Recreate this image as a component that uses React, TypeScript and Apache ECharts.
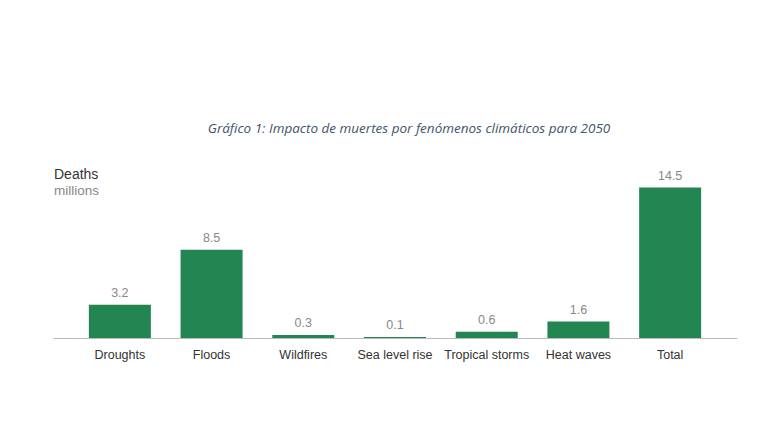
import React, { useEffect, useRef } from "react";
import * as echarts from "echarts";

const categories = ["Droughts", "Floods", "Wildfires", "Sea level rise", "Tropical storms", "Heat waves", "Total"];
const deaths = [3.2, 8.5, 0.3, 0.1, 0.6, 1.6, 14.5];
const titleText = "Gráfico 1: Impacto de muertes por fenómenos climáticos para 2050";
const unitTitle = "Deaths";
const unitSub = "millions";

export default function App() {
  const ref = useRef<HTMLDivElement>(null);
  useEffect(() => {
    if (!ref.current) return;
    const chart = echarts.init(ref.current, null, { renderer: "svg" });
    const font = "'Liberation Sans', Arial, sans-serif";
    chart.setOption({
      animation: false,
      backgroundColor: "#ffffff",
      title: [
        {
          text: titleText,
          left: 404,
          textAlign: "center",
          top: 116,
          textStyle: {
            fontFamily: "'Open Sans', 'Noto Sans', sans-serif",
            fontStyle: "italic",
            fontWeight: "normal",
            fontSize: 13.5,
            color: "#44546a",
          },
        },
        {
          text: unitTitle,
          subtext: unitSub,
          left: 49,
          top: 162,
          itemGap: 2,
          textStyle: { fontFamily: font, fontSize: 14, fontWeight: "normal", color: "#333333" },
          subtextStyle: { fontFamily: font, fontSize: 13.5, color: "#888888" },
        },
      ],
      grid: [
        { left: 74, right: 52, top: 172, bottom: 83 },
        { left: 54, right: 31, top: 172, bottom: 83 },
      ],
      xAxis: [
        {
          type: "category",
          gridIndex: 0,
          data: categories,
          axisLine: { show: false },
          axisTick: { show: false },
          axisLabel: { fontFamily: font, fontSize: 12.5, color: "#333333", margin: 10, interval: 0 },
        },
        {
          type: "value",
          gridIndex: 1,
          min: 0,
          max: 1,
          axisLine: { show: true, lineStyle: { color: "#bbbbbb", width: 1 } },
          axisTick: { show: false },
          axisLabel: { show: false },
          splitLine: { show: false },
        },
      ],
      yAxis: [
        { type: "value", gridIndex: 0, min: 0, max: 16, show: false, splitLine: { show: false } },
        { type: "value", gridIndex: 1, min: 0, max: 1, show: false, splitLine: { show: false } },
      ],
      series: [
        {
          type: "bar",
          xAxisIndex: 0,
          yAxisIndex: 0,
          data: deaths,
          barWidth: 62,
          itemStyle: { color: "#238551" },
          label: {
            show: true,
            position: "top",
            distance: 5,
            fontFamily: font,
            fontSize: 12.5,
            color: "#888888",
            formatter: (p: any) => p.value.toFixed(1),
          },
          z: 3,
        },
      ],
    });
    return () => chart.dispose();
  }, []);
  return <div ref={ref} style={{ width: 768, height: 421, position: "absolute", left: 0, top: 0 }} />;
}
